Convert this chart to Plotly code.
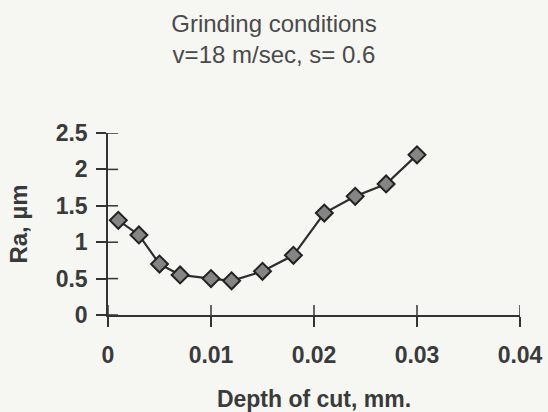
import plotly.graph_objects as go

# Surface roughness vs depth of cut
depth_mm = [0.001, 0.003, 0.005, 0.007, 0.010, 0.012, 0.015, 0.018, 0.021, 0.024, 0.027, 0.030]
ra_um = [1.30, 1.10, 0.70, 0.55, 0.50, 0.47, 0.60, 0.82, 1.40, 1.63, 1.80, 2.20]

x_ticks = [0, 0.01, 0.02, 0.03, 0.04]
x_tick_text = ["0", "0.01", "0.02", "0.03", "0.04"]
y_ticks = [0, 0.5, 1, 1.5, 2, 2.5]
y_tick_text = ["0", "0.5", "1", "1.5", "2", "2.5"]

ink = "#333333"
bg = "#f6f6f3"
font_family = "Liberation Sans, Arial, sans-serif"
half_tick = 10  # px on each side of the axis line

fig = go.Figure()
fig.add_trace(go.Scatter(
    x=depth_mm, y=ra_um, mode="lines+markers",
    line=dict(color="#2e2e2e", width=2.2),
    marker=dict(symbol="diamond", size=13, color="#858585",
                line=dict(color="#222222", width=2)),
    showlegend=False, cliponaxis=False,
))

# crossing tick marks, centred on the axis lines
for v in x_ticks:
    fig.add_shape(type="line", xref="x", yref="y", x0=v, x1=v,
                  ysizemode="pixel", yanchor=0, y0=-half_tick, y1=half_tick,
                  line=dict(color=ink, width=1.5), layer="above")
for v in y_ticks:
    fig.add_shape(type="line", xref="x", yref="y", y0=v, y1=v,
                  xsizemode="pixel", xanchor=0, x0=-half_tick, x1=half_tick,
                  line=dict(color=ink, width=1.5), layer="above")

axis_common = dict(showgrid=False, zeroline=False, showline=True,
                   linecolor=ink, linewidth=1.5, ticklen=half_tick,
                   tickwidth=1.5, tickcolor=ink, ticks="outside",
                   automargin=False)

fig.update_layout(
    width=548, height=412,
    margin=dict(l=108, r=28, t=133, b=97),
    paper_bgcolor=bg, plot_bgcolor=bg,
    font=dict(family=font_family, color=ink),
    title=dict(text="Grinding conditions<br>v=18 m/sec, s= 0.6",
               x=0.5, xanchor="center", xref="container",
               y=1 - 32 / 412, yanchor="top", yref="container",
               font=dict(size=24, color="#4a4a4a", family=font_family)),
    xaxis=dict(range=[0, 0.04], tickvals=x_ticks, ticktext=x_tick_text,
               ticklabelstandoff=9,
               tickfont=dict(size=23, weight="bold", color="#3a3a3a"),
               title=dict(text="Depth of cut, mm.", standoff=30,
                          font=dict(size=23, weight="bold", color="#3a3a3a")),
               **axis_common),
    yaxis=dict(range=[0, 2.5], tickvals=y_ticks, ticktext=y_tick_text,
               ticklabelstandoff=4,
               tickfont=dict(size=23, weight="bold", color="#3a3a3a"),
               title=dict(text="Ra, µm", standoff=21,
                          font=dict(size=24, weight="bold", color="#3a3a3a")),
               **axis_common),
)

fig.write_html("out.html")
